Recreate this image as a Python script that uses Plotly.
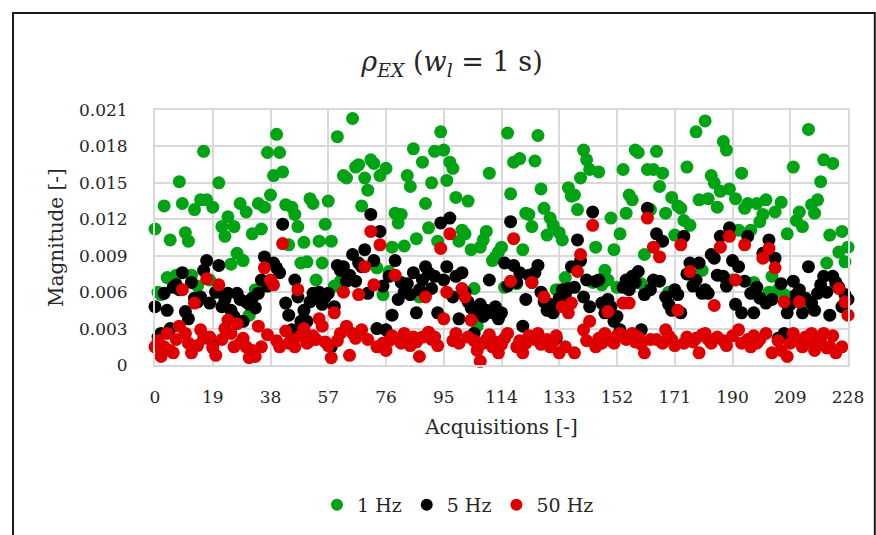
import plotly.graph_objects as go

# Acquisition index for every sample
acquisitions = list(range(229))

# rho_EX magnitude per acquisition, one list per excitation frequency
mag_1hz = [
    0.0112, 0.0060, 0.0058, 0.0131, 0.0072, 0.0103, 0.0068, 0.0074, 0.0151, 0.0133,
    0.0109, 0.0102, 0.0074, 0.0128, 0.0065, 0.0136, 0.0176, 0.0136, 0.0070, 0.0130,
    0.0060, 0.0150, 0.0114, 0.0106, 0.0122, 0.0083, 0.0114, 0.0092, 0.0133, 0.0086,
    0.0126, 0.0041, 0.0108, 0.0062, 0.0133, 0.0112, 0.0130, 0.0175, 0.0140, 0.0156,
    0.0190, 0.0175, 0.0159, 0.0132, 0.0099, 0.0130, 0.0124, 0.0114, 0.0084, 0.0101,
    0.0085, 0.0137, 0.0133, 0.0070, 0.0102, 0.0084, 0.0116, 0.0135, 0.0102, 0.0065,
    0.0188, 0.0069, 0.0156, 0.0154, 0.0072, 0.0203, 0.0163, 0.0165, 0.0131, 0.0154,
    0.0144, 0.0169, 0.0166, 0.0080, 0.0156, 0.0058, 0.0162, 0.0077, 0.0097, 0.0125,
    0.0117, 0.0124, 0.0098, 0.0156, 0.0147, 0.0178, 0.0104, 0.0056, 0.0167, 0.0133,
    0.0113, 0.0150, 0.0176, 0.0102, 0.0192, 0.0177, 0.0152, 0.0167, 0.0162, 0.0138,
    0.0102, 0.0111, 0.0108, 0.0135, 0.0095, 0.0063, 0.0032, 0.0097, 0.0103, 0.0110,
    0.0158, 0.0086, 0.0089, 0.0093, 0.0097, 0.0064, 0.0191, 0.0141, 0.0167, 0.0067,
    0.0170, 0.0095, 0.0125, 0.0124, 0.0114, 0.0168, 0.0189, 0.0145, 0.0129, 0.0107,
    0.0121, 0.0115, 0.0062, 0.0109, 0.0103, 0.0072, 0.0146, 0.0139, 0.0140, 0.0128,
    0.0154, 0.0177, 0.0169, 0.0161, 0.0068, 0.0097, 0.0159, 0.0066, 0.0078, 0.0070,
    0.0121, 0.0095, 0.0064, 0.0108, 0.0161, 0.0125, 0.0140, 0.0136, 0.0177, 0.0175,
    0.0067, 0.0091, 0.0161, 0.0128, 0.0161, 0.0176, 0.0147, 0.0158, 0.0125, 0.0060,
    0.0138, 0.0107, 0.0131, 0.0129, 0.0119, 0.0163, 0.0115, 0.0066, 0.0192, 0.0136,
    0.0078, 0.0201, 0.0137, 0.0156, 0.0150, 0.0130, 0.0143, 0.0184, 0.0177, 0.0145,
    0.0070, 0.0137, 0.0111, 0.0158, 0.0129, 0.0133, 0.0111, 0.0068, 0.0133, 0.0118,
    0.0124, 0.0136, 0.0060, 0.0073, 0.0126, 0.0062, 0.0134, 0.0058, 0.0108, 0.0056,
    0.0163, 0.0119, 0.0126, 0.0114, 0.0050, 0.0194, 0.0132, 0.0125, 0.0136, 0.0151,
    0.0169, 0.0084, 0.0107, 0.0166, 0.0065, 0.0093, 0.0110, 0.0085, 0.0097,
]

mag_5hz = [
    0.0048, 0.0023, 0.0026, 0.0059, 0.0045, 0.0030, 0.0064, 0.0066, 0.0062, 0.0076,
    0.0044, 0.0038, 0.0068, 0.0055, 0.0052, 0.0056, 0.0078, 0.0086, 0.0051, 0.0018,
    0.0060, 0.0082, 0.0048, 0.0054, 0.0059, 0.0045, 0.0040, 0.0059, 0.0054, 0.0036,
    0.0052, 0.0050, 0.0055, 0.0047, 0.0059, 0.0070, 0.0089, 0.0065, 0.0069, 0.0084,
    0.0080, 0.0076, 0.0116, 0.0051, 0.0041, 0.0029, 0.0070, 0.0056, 0.0036, 0.0045,
    0.0036, 0.0052, 0.0059, 0.0055, 0.0060, 0.0050, 0.0056, 0.0059, 0.0015, 0.0048,
    0.0082, 0.0078, 0.0081, 0.0069, 0.0074, 0.0091, 0.0069, 0.0084, 0.0081, 0.0095,
    0.0059, 0.0124, 0.0086, 0.0030, 0.0110, 0.0065, 0.0029, 0.0073, 0.0041, 0.0086,
    0.0054, 0.0068, 0.0060, 0.0067, 0.0058, 0.0076, 0.0043, 0.0062, 0.0070, 0.0081,
    0.0076, 0.0063, 0.0073, 0.0043, 0.0117, 0.0070, 0.0081, 0.0121, 0.0056, 0.0073,
    0.0038, 0.0076, 0.0060, 0.0052, 0.0047, 0.0026, 0.0043, 0.0050, 0.0040, 0.0045,
    0.0070, 0.0043, 0.0048, 0.0038, 0.0043, 0.0084, 0.0065, 0.0118, 0.0082, 0.0068,
    0.0076, 0.0032, 0.0054, 0.0074, 0.0068, 0.0076, 0.0082, 0.0060, 0.0052, 0.0045,
    0.0050, 0.0043, 0.0022, 0.0055, 0.0062, 0.0058, 0.0063, 0.0081, 0.0064, 0.0103,
    0.0086, 0.0056, 0.0070, 0.0048, 0.0126, 0.0069, 0.0070, 0.0051, 0.0043, 0.0054,
    0.0048, 0.0036, 0.0040, 0.0029, 0.0064, 0.0070, 0.0062, 0.0073, 0.0068, 0.0077,
    0.0029, 0.0058, 0.0129, 0.0062, 0.0070, 0.0108, 0.0069, 0.0102, 0.0056, 0.0050,
    0.0045, 0.0062, 0.0058, 0.0043, 0.0106, 0.0075, 0.0084, 0.0065, 0.0070, 0.0084,
    0.0059, 0.0062, 0.0059, 0.0091, 0.0088, 0.0074, 0.0106, 0.0073, 0.0065, 0.0113,
    0.0086, 0.0050, 0.0081, 0.0043, 0.0069, 0.0106, 0.0059, 0.0043, 0.0064, 0.0055,
    0.0092, 0.0051, 0.0103, 0.0054, 0.0088, 0.0022, 0.0067, 0.0026, 0.0043, 0.0050,
    0.0069, 0.0058, 0.0062, 0.0043, 0.0055, 0.0081, 0.0051, 0.0045, 0.0059, 0.0066,
    0.0073, 0.0060, 0.0041, 0.0073, 0.0068, 0.0064, 0.0048, 0.0058, 0.0054,
]

mag_50hz = [
    0.0015, 0.0020, 0.0007, 0.0015, 0.0026, 0.0012, 0.0010, 0.0021, 0.0032, 0.0062,
    0.0026, 0.0018, 0.0010, 0.0051, 0.0016, 0.0029, 0.0022, 0.0071, 0.0023, 0.0014,
    0.0008, 0.0066, 0.0021, 0.0030, 0.0037, 0.0026, 0.0015, 0.0034, 0.0018, 0.0022,
    0.0015, 0.0006, 0.0012, 0.0007, 0.0032, 0.0015, 0.0080, 0.0025, 0.0070, 0.0066,
    0.0020, 0.0015, 0.0100, 0.0028, 0.0018, 0.0021, 0.0015, 0.0062, 0.0024, 0.0030,
    0.0018, 0.0020, 0.0024, 0.0021, 0.0038, 0.0032, 0.0019, 0.0016, 0.0006, 0.0043,
    0.0020, 0.0026, 0.0060, 0.0032, 0.0008, 0.0026, 0.0022, 0.0058, 0.0029, 0.0081,
    0.0021, 0.0110, 0.0066, 0.0015, 0.0099, 0.0018, 0.0012, 0.0020, 0.0024, 0.0074,
    0.0021, 0.0018, 0.0026, 0.0020, 0.0016, 0.0023, 0.0019, 0.0007, 0.0023, 0.0056,
    0.0027, 0.0021, 0.0023, 0.0016, 0.0096, 0.0038, 0.0060, 0.0108, 0.0020, 0.0026,
    0.0018, 0.0063, 0.0056, 0.0023, 0.0037, 0.0020, 0.0012, 0.0003, 0.0018, 0.0021,
    0.0025, 0.0015, 0.0019, 0.0010, 0.0017, 0.0022, 0.0026, 0.0069, 0.0104, 0.0015,
    0.0020, 0.0010, 0.0018, 0.0024, 0.0068, 0.0021, 0.0026, 0.0017, 0.0056, 0.0021,
    0.0015, 0.0019, 0.0024, 0.0010, 0.0048, 0.0015, 0.0043, 0.0051, 0.0010, 0.0077,
    0.0091, 0.0029, 0.0020, 0.0036, 0.0115, 0.0015, 0.0022, 0.0018, 0.0026, 0.0044,
    0.0021, 0.0018, 0.0024, 0.0026, 0.0051, 0.0021, 0.0051, 0.0026, 0.0019, 0.0023,
    0.0017, 0.0010, 0.0121, 0.0021, 0.0097, 0.0021, 0.0089, 0.0018, 0.0029, 0.0024,
    0.0021, 0.0016, 0.0045, 0.0099, 0.0018, 0.0023, 0.0077, 0.0019, 0.0022, 0.0010,
    0.0025, 0.0026, 0.0021, 0.0018, 0.0049, 0.0023, 0.0097, 0.0020, 0.0016, 0.0106,
    0.0024, 0.0070, 0.0029, 0.0018, 0.0099, 0.0021, 0.0015, 0.0024, 0.0018, 0.0021,
    0.0088, 0.0026, 0.0096, 0.0010, 0.0080, 0.0020, 0.0012, 0.0052, 0.0007, 0.0018,
    0.0026, 0.0021, 0.0052, 0.0015, 0.0023, 0.0019, 0.0026, 0.0012, 0.0018, 0.0022,
    0.0026, 0.0014, 0.0015, 0.0024, 0.0010, 0.0063, 0.0015, 0.0052, 0.0041,
]

series_names = ["1 Hz", "5 Hz", "50 Hz"]
series_colors = ["rgb(0,163,20)", "rgb(0,0,0)", "rgb(222,0,0)"]

x_tick_vals = list(range(0, 229, 19))
x_tick_text = [str(v) for v in x_tick_vals]
y_tick_vals = [0, 0.003, 0.006, 0.009, 0.012, 0.015, 0.018, 0.021]
y_tick_text = ["0", "0.003", "0.006", "0.009", "0.012", "0.015", "0.018", "0.021"]

FONT = "DejaVu Serif"
TEXT_COLOR = "#262626"
GRID = "#d9d9d9"

fig = go.Figure()
for name, vals, color in zip(series_names, [mag_1hz, mag_5hz, mag_50hz], series_colors):
    fig.add_trace(go.Scatter(
        x=acquisitions, y=vals, mode="markers", name=name,
        marker=dict(size=13, color=color, line=dict(width=0)),
        cliponaxis=False,
    ))

fig.update_layout(
    width=876, height=535,
    margin=dict(l=155, r=23, t=110, b=170),
    paper_bgcolor="white", plot_bgcolor="white",
    font=dict(family=FONT, color=TEXT_COLOR, size=17),
    title=dict(
        text="<i>ρ<sub>EX</sub></i> (<i>w<sub>l</sub></i> = 1 s)",
        x=452 / 876, xanchor="center", xref="container",
        y=1 - 62 / 535, yanchor="middle", yref="container",
        font=dict(family=FONT, size=27, color=TEXT_COLOR),
    ),
    showlegend=True,
    legend=dict(
        orientation="h", xref="container", yref="container",
        x=458 / 876, xanchor="center", y=1 - 505 / 535, yanchor="middle",
        font=dict(family=FONT, size=19, color=TEXT_COLOR),
        itemsizing="constant", itemwidth=30, tracegroupgap=0,
    ),
    xaxis=dict(
        range=[0, 228], tickmode="array", tickvals=x_tick_vals, ticktext=x_tick_text,
        showgrid=True, gridcolor=GRID, gridwidth=2,
        showline=True, linecolor=GRID, linewidth=2, mirror=True,
        zeroline=False, ticks="", ticklabelstandoff=16,
        tickfont=dict(family=FONT, size=17, color=TEXT_COLOR),
        title=dict(text="Acquisitions [-]", standoff=14,
                   font=dict(family=FONT, size=20, color=TEXT_COLOR)),
    ),
    yaxis=dict(
        range=[0, 0.021], tickmode="array", tickvals=y_tick_vals, ticktext=y_tick_text,
        showgrid=True, gridcolor=GRID, gridwidth=2,
        showline=True, linecolor=GRID, linewidth=2, mirror=True,
        zeroline=False, ticks="", ticklabelstandoff=22,
        tickfont=dict(family=FONT, size=17, color=TEXT_COLOR),
        title=dict(text="Magnitude [-]", standoff=10,
                   font=dict(family=FONT, size=20, color=TEXT_COLOR)),
    ),
    shapes=[dict(
        type="rect", xref="paper", yref="paper",
        x0=(12 - 155) / 698, x1=(880 - 155) / 698,
        y0=(365 - 545) / 255, y1=(365 - 13) / 255,
        line=dict(color="#1a1a1a", width=2), fillcolor="rgba(0,0,0,0)",
        layer="below",
    )],
)

fig.write_html("out.html")
